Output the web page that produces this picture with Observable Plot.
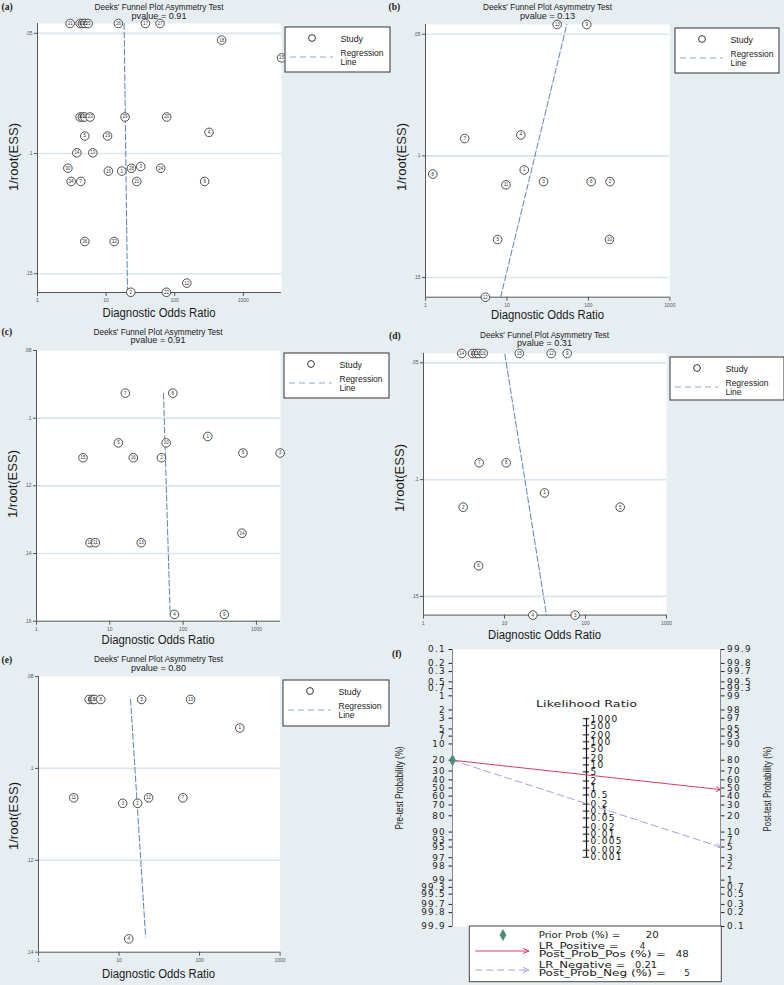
<!DOCTYPE html>
<html><head><meta charset="utf-8">
<script src="https://cdn.jsdelivr.net/npm/d3@7"></script>
<script src="https://cdn.jsdelivr.net/npm/@observablehq/plot@0.6"></script>
<style>
html,body{margin:0;padding:0;background:#e7eef2;}
#root{position:relative;width:784px;height:985px;overflow:hidden;background:#e7eef2;font-family:"Liberation Sans",Arial,sans-serif;}
#root svg{position:absolute;overflow:visible;max-width:none;}
.fagan text{letter-spacing:1.3px;}
</style></head><body><div id="root"></div><script>
// ---------- data ----------
const xTicks = [1, 10, 100, 1000];
const pTitle = "Deeks' Funnel Plot Asymmetry Test";

// (a)
const aDOR = [2.99, 4.18, 4.52, 4.89, 5.47, 15.1, 37.4, 61.1, 483, 3615, 4.18, 4.52, 4.89, 5.85, 18.9, 76.4, 316, 4.89, 10.5, 3.74, 6.4, 2.77, 23.4, 32, 62.5, 10.8, 16.9, 3.09, 4.28, 28, 273, 4.89, 13.1, 150, 22.9, 75.6];
const aESS = [0.0459, 0.0459, 0.0459, 0.0459, 0.0459, 0.0459, 0.0459, 0.0459, 0.0528, 0.0602, 0.0848, 0.0848, 0.0848, 0.0848, 0.0848, 0.0848, 0.0912, 0.0927, 0.0927, 0.0997, 0.0997, 0.1061, 0.1061, 0.1054, 0.1061, 0.1073, 0.1073, 0.1116, 0.1116, 0.1116, 0.1116, 0.1366, 0.1366, 0.1539, 0.1577, 0.1577];
const aStudy = [31, 6, 33, 35, 25, 26, 17, 27, 18, 15, 9, 10, 11, 23, 29, 20, 4, 5, 19, 14, 13, 30, 28, 3, 24, 16, 1, 34, 7, 21, 8, 36, 32, 12, 2, 22];
const aRegDOR = [18.3, 20.5];
const aRegESS = [0.0459, 0.1577];
const aP = "0.91";

// (b)
const bDOR = [41.3, 95.4, 3.03, 14.8, 1.23, 16.3, 9.72, 28.1, 108, 184, 7.69, 181, 5.43];
const bESS = [0.046, 0.046, 0.0929, 0.0914, 0.1075, 0.1058, 0.1119, 0.1106, 0.1106, 0.1106, 0.1344, 0.1344, 0.1581];
const bStudy = [13, 9, 7, 4, 8, 1, 11, 3, 6, 2, 5, 10, 12];
const bRegDOR = [8.36, 54.3];
const bRegESS = [0.1581, 0.046];
const bP = "0.13";

// (c)
const cDOR = [16.3, 72.3, 217, 13.1, 58.7, 4.31, 20.9, 50.7, 655, 2110, 5.37, 6.35, 26.8, 635, 76.2, 365];
const cESS = [0.0926, 0.0926, 0.1054, 0.1073, 0.1073, 0.1117, 0.1117, 0.1117, 0.1103, 0.1103, 0.1368, 0.1368, 0.1368, 0.134, 0.158, 0.158];
const cStudy = [7, 8, 1, 5, 10, 15, 16, 2, 6, 3, 12, 11, 13, 14, 4, 9];
const cRegDOR = [54, 66.5];
const cRegESS = [0.0926, 0.158];
const cP = "0.91";

// (d)
const dDOR = [2.97, 4.03, 4.47, 4.78, 5.45, 15.2, 37.7, 59.4, 4.87, 10.5, 31.2, 3.09, 268, 4.78, 22.4, 74.5];
const dESS = [0.046, 0.046, 0.046, 0.046, 0.046, 0.046, 0.046, 0.046, 0.0928, 0.0928, 0.1057, 0.1118, 0.1118, 0.1369, 0.158, 0.158];
const dStudy = [14, 10, 11, 13, 16, 15, 12, 9, 7, 8, 1, 2, 5, 6, 4, 3];
const dRegDOR = [10.1, 33];
const dRegESS = [0.0463, 0.158];
const dP = "0.31";

// (e)
const eDOR = [4.25, 4.72, 4.95, 5.93, 19.1, 77.3, 316, 2.74, 11.1, 17, 23.3, 62.1, 13.2];
const eESS = [0.085, 0.085, 0.085, 0.085, 0.085, 0.085, 0.0912, 0.1064, 0.1076, 0.1076, 0.1064, 0.1064, 0.1371];
const eStudy = [6, 10, 9, 8, 5, 13, 1, 11, 3, 2, 12, 7, 4];
const eRegDOR = [13.9, 21.4];
const eRegESS = [0.085, 0.1367];
const eP = "0.80";

// (f) Fagan nomogram
const preTicks = [0.1, 0.2, 0.3, 0.5, 0.7, 1, 2, 3, 5, 7, 10, 20, 30, 40, 50, 60, 70, 80, 90, 93, 95, 97, 98, 99, 99.3, 99.5, 99.7, 99.8, 99.9];
const postTicks = [99.9, 99.8, 99.7, 99.5, 99.3, 99, 98, 97, 95, 93, 90, 80, 70, 60, 50, 40, 30, 20, 10, 7, 5, 3, 2, 1, 0.7, 0.5, 0.3, 0.2, 0.1];
const lrTicks = [1000, 500, 200, 100, 50, 20, 10, 5, 2, 1, 0.5, 0.2, 0.1, 0.05, 0.02, 0.01, 0.005, 0.002, 0.001];
const priorProb = 20;
const lrPos = 4, postPos = 48;
const lrNeg = 0.21, postNeg = 5;

// ---------- helpers ----------
const root = document.getElementById("root");
const logit = p => Math.log(p / (1 - p));
const stataFmt = d => String(+d.toFixed(3)).replace(/^0\./, ".");
const fmtPct = v => String(+v.toFixed(1));

const panels = [
  {lab:"(a)", labXY:[1.5,10], box:[37,281,23,292], xDom:[1,3600], yDom:[0.0459,0.1578], yTicks:[0.05,0.1,0.15],
   dor:aDOR, ess:aESS, id:aStudy, regDor:aRegDOR, regEss:aRegESS, p:aP, titleY:[10,18.5], yTitle:[17.5,157], xTitle:[159,317], legend:[285,27,105,45]},
  {lab:"(b)", labXY:[388.5,10], box:[425.3,669.7,24,296.7], xDom:[1,1000], yDom:[0.046,0.1581], yTicks:[0.05,0.1,0.15],
   dor:bDOR, ess:bESS, id:bStudy, regDor:bRegDOR, regEss:bRegESS, p:bP, titleY:[10,18.5], yTitle:[406,157], xTitle:[547.5,318.5], legend:[675,28,104,45]},
  {lab:"(c)", labXY:[1.5,334.5], box:[36,280,350,620.7], xDom:[1,2130], yDom:[0.08,0.16], yTicks:[0.08,0.1,0.12,0.14,0.16],
   dor:cDOR, ess:cESS, id:cStudy, regDor:cRegDOR, regEss:cRegESS, p:cP, titleY:[335,343], yTitle:[17,484], xTitle:[158,644], legend:[284,353,105,45]},
  {lab:"(d)", labXY:[389,339], box:[423,666,352.7,614.3], xDom:[1,1000], yDom:[0.046,0.158], yTicks:[0.05,0.1,0.15],
   dor:dDOR, ess:dESS, id:dStudy, regDor:dRegDOR, regEss:dRegESS, p:dP, titleY:[338,346], yTitle:[404,478], xTitle:[544.5,638.5], legend:[670,357,114,43]},
  {lab:"(e)", labXY:[1.5,663], box:[37.7,279.3,676,951.7], xDom:[1,1000], yDom:[0.08,0.14], yTicks:[0.08,0.1,0.12,0.14],
   dor:eDOR, ess:eESS, id:eStudy, regDor:eRegDOR, regEss:eRegESS, p:eP, titleY:[662,670.5], yTitle:[17.5,816], xTitle:[158.5,978], legend:[283,680,106,46]}
];

function funnel(p) {
  const mL = 24, mR = 8, mT = 8, mB = 16;
  const w = p.box[1] - p.box[0], h = p.box[3] - p.box[2];
  const pts = p.dor.map((d, i) => ({dor: d, ess: p.ess[i], id: p.id[i]}));
  const reg = p.regDor.map((d, i) => ({dor: d, ess: p.regEss[i]}));
  const grid = p.yTicks.filter(t => t > p.yDom[0] + 1e-9 && t < p.yDom[1] - 1e-9);
  const chart = Plot.plot({
    width: w + mL + mR, height: h + mT + mB,
    marginLeft: mL, marginRight: mR, marginTop: mT, marginBottom: mB,
    style: {background: "transparent", overflow: "visible", fontFamily: "'Liberation Sans', Arial, sans-serif"},
    x: {type: "log", domain: p.xDom},
    y: {domain: p.yDom, reverse: true},
    marks: [
      Plot.frame({fill: "white", stroke: "none"}),
      Plot.ruleY(grid, {stroke: "#d9e4eb", strokeWidth: 1.6}),
      Plot.ruleX([p.xDom[0]], {stroke: "#555", strokeWidth: 1}),
      Plot.ruleY([p.yDom[1]], {stroke: "#555", strokeWidth: 1}),
      Plot.axisX({ticks: xTicks, tickFormat: d => String(d), tickSize: 4, tickPadding: 2, fontSize: 5, label: null, color: "#555"}),
      Plot.axisY({ticks: p.yTicks, tickFormat: stataFmt, tickSize: 3, tickPadding: 2, fontSize: 5, label: null, color: "#555"}),
      Plot.line(reg, {x: "dor", y: "ess", stroke: "#5a84b5", strokeWidth: 1, strokeDasharray: "6,2.5"}),
      Plot.dot(pts, {x: "dor", y: "ess", r: 4.3, fill: "white", stroke: "#3a3a3a", strokeWidth: 0.9}),
      Plot.text(pts, {x: "dor", y: "ess", text: "id", fontSize: 4.5, fill: "#333"})
    ]
  });
  chart.style.position = "absolute";
  chart.style.left = (p.box[0] - mL) + "px";
  chart.style.top = (p.box[2] - mT) + "px";
  root.append(chart);
}
panels.forEach(funnel);

// ---------- Fagan nomogram ----------
(function () {
  const bx = [452, 720, 649, 926];
  const mL = 50, mR = 50, mT = 8, mB = 8;
  const L = logit(0.999);
  const prY = logit(priorProb / 100);
  const arrows = [
    {y1: prY, y2: -logit(postPos / 100), lr: lrPos},
    {y1: prY, y2: -logit(postNeg / 100), lr: lrNeg}
  ];
  const lrAxis = [{y1: -Math.log(lrTicks[0]) / 2, y2: -Math.log(lrTicks[lrTicks.length - 1]) / 2}];
  const chart = Plot.plot({
    width: bx[1] - bx[0] + mL + mR, height: bx[3] - bx[2] + mT + mB,
    marginLeft: mL, marginRight: mR, marginTop: mT, marginBottom: mB,
    style: {background: "transparent", overflow: "visible", fontFamily: "'DejaVu Sans', sans-serif"},
    x: {domain: [0, 1], axis: null},
    y: {domain: [-L, L], reverse: true},
    marks: [
      Plot.frame({fill: "white", stroke: "none"}),
      Plot.ruleX([0, 1], {stroke: "#888", strokeWidth: 1}),
      Plot.axisY(preTicks.map(p => logit(p / 100)), {anchor: "left", tickFormat: d => fmtPct(100 / (1 + Math.exp(-d))), tickSize: 3.5, tickPadding: 3, fontSize: 8.8, label: null, color: "#222"}),
      Plot.axisY(postTicks.map(q => -logit(q / 100)), {anchor: "right", tickFormat: d => fmtPct(100 / (1 + Math.exp(d))), tickSize: 3.5, tickPadding: 3, fontSize: 8.8, label: null, color: "#222"}),
      Plot.ruleX(lrAxis, {x: () => 0.5, y1: "y1", y2: "y2", stroke: "#111", strokeWidth: 1.2}),
      Plot.ruleY(lrTicks, {y: d => -Math.log(d) / 2, x1: () => 0.488, x2: () => 0.512, stroke: "#111", strokeWidth: 1}),
      Plot.text(lrTicks, {x: () => 0.5, y: d => -Math.log(d) / 2, text: d => String(d), textAnchor: "start", dx: 4, fontSize: 9, fill: "#111"}),
      Plot.arrow([arrows[0]], {x1: () => 0, y1: "y1", x2: () => 1, y2: "y2", stroke: "#d63d62", strokeWidth: 1, headLength: 7}),
      Plot.arrow([arrows[1]], {x1: () => 0, y1: "y1", x2: () => 1, y2: "y2", stroke: "#a49fe4", strokeWidth: 1, strokeDasharray: "7,4", headLength: 7}),
      Plot.dot([priorProb], {x: () => 0, y: d => logit(d / 100), symbol: "diamond", r: 3.6, fill: "#4d8b78", stroke: "none"})
    ]
  });
  chart.classList.add("fagan");
  chart.style.position = "absolute";
  chart.style.left = (bx[0] - mL) + "px";
  chart.style.top = (bx[2] - mT) + "px";
  root.append(chart);
  d3.select(chart).selectAll("g[aria-label='text'] text").attr("letter-spacing", "2.4px");
})();

// ---------- text overlay (titles, axis titles, legends) ----------
const ov = d3.select(root).append("svg").attr("width", 784).attr("height", 985)
  .style("left", "0px").style("top", "0px").style("pointer-events", "none");
function T(x, y, s, o = {}) {
  const t = ov.append("text").attr("x", x).attr("y", y).text(s)
    .attr("font-size", o.size || 10).attr("fill", o.fill || "#1a1a1a")
    .attr("font-family", o.family || "'Liberation Sans', Arial, sans-serif")
    .attr("text-anchor", o.anchor || "start");
  if (o.len) t.attr("textLength", o.len).attr("lengthAdjust", "spacingAndGlyphs");
  if (o.weight) t.attr("font-weight", o.weight);
  if (o.rot) t.attr("transform", `rotate(${o.rot},${x},${y})`);
  return t;
}
function studyLegend([bx, by, bw, bh]) {
  ov.append("rect").attr("x", bx).attr("y", by).attr("width", bw).attr("height", bh)
    .attr("fill", "white").attr("stroke", "#333").attr("stroke-width", 1);
  ov.append("circle").attr("cx", bx + 27).attr("cy", by + 11).attr("r", 3.4)
    .attr("fill", "white").attr("stroke", "#333").attr("stroke-width", 1);
  T(bx + 55.5, by + 14.5, "Study", {size: 9.3, len: 22.5});
  ov.append("line").attr("x1", bx + 5).attr("x2", bx + 48).attr("y1", by + 30).attr("y2", by + 30)
    .attr("stroke", "#8fa9c6").attr("stroke-width", 1).attr("stroke-dasharray", "6,4");
  T(bx + 55.5, by + 28.5, "Regression", {size: 9.3, len: 43});
  T(bx + 55.5, by + 38, "Line", {size: 9.3, len: 16});
}
panels.forEach(p => {
  const cx = (p.box[0] + p.box[1]) / 2;
  T(cx, p.titleY[0], pTitle, {size: 8.3, anchor: "middle", len: 129});
  T(cx, p.titleY[1], "pvalue =  " + p.p, {size: 8.3, anchor: "middle", len: 55});
  T(p.yTitle[0], p.yTitle[1], "1/root(ESS)", {size: 12.5, anchor: "middle", len: 68, rot: -90});
  T(p.xTitle[0], p.xTitle[1], "Diagnostic Odds Ratio", {size: 12.5, anchor: "middle", len: 113});
  studyLegend(p.legend);
  T(p.labXY[0], p.labXY[1], p.lab, {size: 9.5, weight: "bold", family: "'Liberation Serif', 'Times New Roman', serif"});
});
T(392, 657, "(f)", {size: 9.5, weight: "bold", family: "'Liberation Serif', 'Times New Roman', serif"});

// Fagan text
const DJ = "'DejaVu Sans', sans-serif";
T(586.5, 707, "Likelihood Ratio", {size: 9, anchor: "middle", len: 101, family: DJ});
T(402.5, 788, "Pre-test Probability (%)", {size: 10, anchor: "middle", len: 83, rot: -90, family: "'Liberation Sans', Arial, sans-serif"});
T(770.5, 789, "Post-test Probability (%)", {size: 10, anchor: "middle", len: 85, rot: -90, family: "'Liberation Sans', Arial, sans-serif"});

// Fagan legend
ov.append("rect").attr("x", 469.3).attr("y", 926).attr("width", 252).attr("height", 55.7)
  .attr("fill", "white").attr("stroke", "#444").attr("stroke-width", 1);
ov.append("path").attr("d", d3.symbol(d3.symbolDiamond, 40)()).attr("transform", "translate(503,935)").attr("fill", "#4d8b78");
function legArrow(y, color, dash) {
  ov.append("line").attr("x1", 475.3).attr("x2", 528.7).attr("y1", y).attr("y2", y)
    .attr("stroke", color).attr("stroke-width", 1).attr("stroke-dasharray", dash || null);
  ov.append("path").attr("d", `M${523},${y - 2.6}L${529},${y}L${523},${y + 2.6}`)
    .attr("fill", "none").attr("stroke", color).attr("stroke-width", 1);
}
legArrow(951, "#d63d62");
legArrow(970, "#a49fe4", "7,4");
const lg = {size: 8.6, family: DJ};
T(538.7, 938.3, "Prior Prob (%) =", {...lg, len: 81.6});
T(658.7, 938.3, String(priorProb), {...lg, anchor: "end", len: 13});
T(538.7, 949.3, "LR_Positive =", {...lg, len: 80});
T(645.3, 949.3, String(lrPos), {...lg, anchor: "end"});
T(538.7, 956.7, "Post_Prob_Pos (%) =", {...lg, len: 127.3});
T(688.7, 956.7, String(postPos), {...lg, anchor: "end", len: 13});
T(538.7, 968.3, "LR_Negative =", {...lg, len: 86.6});
T(657, 968.3, String(lrNeg), {...lg, anchor: "end", len: 22});
T(538.7, 976, "Post_Prob_Neg (%) =", {...lg, len: 127.3});
T(689.7, 976, String(postNeg), {...lg, anchor: "end"});
</script></body></html>
